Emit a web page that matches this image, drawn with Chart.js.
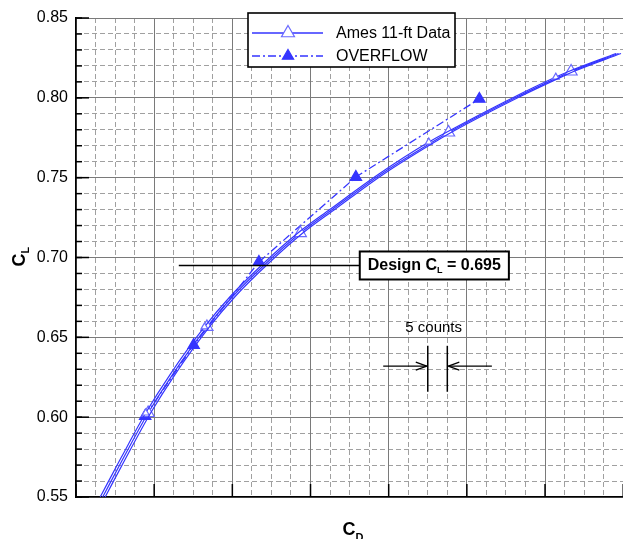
<!DOCTYPE html>
<html><head><meta charset="utf-8">
<script src="https://cdn.jsdelivr.net/npm/chart.js@4.4.1/dist/chart.umd.min.js"></script>
<style>
html,body{margin:0;padding:0;background:#fff;overflow:hidden;width:623px;height:539px}
#wrap{position:relative;width:631px;height:539px}
canvas{display:block}
</style></head>
<body><div id="wrap"><canvas id="c" width="631" height="539"></canvas></div>
<script>
// ---- data (C_D, C_L) ----
const amesCD_A = [0.030683,0.031226,0.031846,0.032478,0.033350,0.034020,0.034804,0.035739,0.036574,0.037813,0.039203,0.039532,0.041226,0.042414,0.042667,0.043881];
const amesCL_A = [0.5500,0.5750,0.6026,0.6270,0.6565,0.6759,0.6950,0.7153,0.7304,0.7523,0.7736,0.7783,0.7999,0.8137,0.8165,0.8278];
const amesCD_B = [0.030619,0.031163,0.031783,0.032415,0.033287,0.033957,0.034741,0.035676,0.036511,0.037750,0.039026,0.039469,0.041163,0.042275,0.042604,0.043818];
const amesCL_B = [0.5500,0.5750,0.6026,0.6270,0.6565,0.6759,0.6950,0.7153,0.7304,0.7523,0.7723,0.7783,0.7999,0.8130,0.8165,0.8278];
const amesCD_C = [0.030746,0.031289,0.031909,0.032541,0.033413,0.034083,0.034867,0.035802,0.036637,0.037876,0.039266,0.039595,0.041289,0.042477,0.042730,0.043944];
const amesCL_C = [0.5500,0.5750,0.6026,0.6270,0.6565,0.6759,0.6950,0.7153,0.7304,0.7523,0.7736,0.7783,0.7999,0.8137,0.8165,0.8278];
const amesMarkA = [0,0,7,0,7,0,0,7,0,0,0,7,0,0,7,0];
const amesMarkB = [0,0,4,0,4,0,0,0,0,0,4,0,0,4,0,0];
const overflowCD = [0.03177,0.03301,0.03468,0.03716,0.04032];
const overflowCL = [0.6007,0.6452,0.6972,0.7504,0.7993];
const seriesNames = ["Ames 11-ft Data","OVERFLOW"];
const yTickValues = [0.55,0.60,0.65,0.70,0.75,0.80,0.85];
const X_MIN = 0.030, X_MAX = 0.044, X_MAJOR = 0.002, X_MINOR = 0.0005;
const Y_MINOR = 0.01;
const DESIGN_CL = 0.695, DESIGN_LINE_START = 0.03263, DESIGN_BOX_LEFT = 0.03726;
const COUNT_X1 = 0.0390, COUNT_X2 = 0.0395, COUNT_ARROW_L = 0.03786, COUNT_ARROW_R = 0.04064;
const COUNT_Y = 0.632, COUNT_TOP = 0.6447, COUNT_BOT = 0.6159, COUNT_TEXT_X = 0.03915, COUNT_TEXT_Y = 0.6558;

const BLUE = '#3535ff', MARK = '#6a6aff';
const FONT = "'Liberation Sans', Arial, Helvetica, sans-serif";
const pts = (xs, ys) => xs.map((x,i)=>({x, y: ys[i]}));

function line(ctx,x1,y1,x2,y2){ctx.beginPath();ctx.moveTo(x1,y1);ctx.lineTo(x2,y2);ctx.stroke();}
function tri(ctx,x,y,r,fill,stroke){
  ctx.beginPath();
  ctx.moveTo(x, y - r);
  ctx.lineTo(x + r*Math.sin(Math.PI*2/3), y + r*0.5);
  ctx.lineTo(x - r*Math.sin(Math.PI*2/3), y + r*0.5);
  ctx.closePath();
  ctx.fillStyle = fill; ctx.fill();
  ctx.strokeStyle = stroke; ctx.lineWidth = 1.2; ctx.stroke();
}

const overlay = {
  id: 'overlay',
  afterDraw(chart){
    const ctx = chart.ctx, ca = chart.chartArea;
    const xs = chart.scales.x, ys = chart.scales.y;
    ctx.save();
    // inward tick marks
    ctx.strokeStyle = '#000'; ctx.lineWidth = 1.5;
    yTickValues.forEach(v=>{const p = ys.getPixelForValue(v); line(ctx, ca.left, p, ca.left+13, p);});
    chart.scales.yMinor.ticks.forEach(t=>{const p = ys.getPixelForValue(t.value); line(ctx, ca.left, p, ca.left+6, p);});
    xs.ticks.forEach(t=>{const p = xs.getPixelForValue(t.value); line(ctx, p, ca.bottom, p, ca.bottom-13);});

    // axis titles
    ctx.fillStyle = '#000';
    ctx.textBaseline = 'alphabetic'; ctx.textAlign = 'left';
    ctx.font = 'bold 18px ' + FONT;
    const cw = ctx.measureText('C').width;
    const xc = (ca.left + 623) / 2;
    ctx.fillText('C', xc - 7, 535);
    ctx.font = 'bold 11px ' + FONT;
    ctx.fillText('D', xc - 7 + cw, 541);
    ctx.save();
    ctx.translate(25, (ca.top + ca.bottom)/2);
    ctx.rotate(-Math.PI/2);
    ctx.font = 'bold 18px ' + FONT;
    ctx.fillText('C', -9, 0);
    ctx.font = 'bold 11px ' + FONT;
    ctx.fillText('L', -9 + cw, 4);
    ctx.restore();

    // design CL line and box
    const yd = ys.getPixelForValue(DESIGN_CL);
    const xl = xs.getPixelForValue(DESIGN_LINE_START);
    const xb = xs.getPixelForValue(DESIGN_BOX_LEFT);
    ctx.strokeStyle = '#000'; ctx.lineWidth = 1.5;
    line(ctx, xl, yd, xb, yd);
    ctx.font = 'bold 16px ' + FONT;
    const t1 = 'Design C', t3 = ' = 0.695';
    const w1 = ctx.measureText(t1).width, w3 = ctx.measureText(t3).width;
    ctx.font = 'bold 9px ' + FONT;
    const w2 = ctx.measureText('L').width;
    const bw = w1 + w2 + w3 + 16, bh = 28;
    ctx.fillStyle = '#fff';
    ctx.fillRect(xb, yd - bh/2, bw, bh);
    ctx.lineWidth = 2; ctx.strokeStyle = '#000';
    ctx.strokeRect(xb, yd - bh/2, bw, bh);
    ctx.fillStyle = '#000';
    ctx.font = 'bold 16px ' + FONT;
    ctx.fillText(t1, xb + 8, yd + 5);
    ctx.font = 'bold 9px ' + FONT;
    ctx.fillText('L', xb + 8 + w1, yd + 8);
    ctx.font = 'bold 16px ' + FONT;
    ctx.fillText(t3, xb + 8 + w1 + w2, yd + 5);

    // 5 counts annotation
    const c1 = xs.getPixelForValue(COUNT_X1), c2 = xs.getPixelForValue(COUNT_X2);
    const ya = ys.getPixelForValue(COUNT_Y);
    ctx.lineWidth = 1.5; ctx.strokeStyle = '#000';
    line(ctx, c1, ys.getPixelForValue(COUNT_TOP), c1, ys.getPixelForValue(COUNT_BOT));
    line(ctx, c2, ys.getPixelForValue(COUNT_TOP), c2, ys.getPixelForValue(COUNT_BOT));
    ctx.lineWidth = 1.2;
    const al = xs.getPixelForValue(COUNT_ARROW_L), ar = xs.getPixelForValue(COUNT_ARROW_R);
    line(ctx, al, ya, c1 - 1, ya);
    line(ctx, c1 - 1, ya, c1 - 12, ya - 4); line(ctx, c1 - 1, ya, c1 - 12, ya + 4);
    line(ctx, ar, ya, c2 + 1, ya);
    line(ctx, c2 + 1, ya, c2 + 12, ya - 4); line(ctx, c2 + 1, ya, c2 + 12, ya + 4);
    ctx.font = '15px ' + FONT; ctx.textAlign = 'center'; ctx.textBaseline = 'middle';
    ctx.fillText('5 counts', xs.getPixelForValue(COUNT_TEXT_X), ys.getPixelForValue(COUNT_TEXT_Y));

    // legend
    const lx = 248, ly = 13, lw = 207, lh = 54;
    ctx.fillStyle = '#fff'; ctx.fillRect(lx, ly, lw, lh);
    ctx.strokeStyle = '#000'; ctx.lineWidth = 1.6; ctx.strokeRect(lx, ly, lw, lh);
    ctx.strokeStyle = BLUE; ctx.lineWidth = 1.3;
    line(ctx, 252, 33, 323, 33);
    tri(ctx, 288, 33, 7.5, '#fff', MARK);
    ctx.setLineDash([8,3,2,3]);
    ctx.strokeStyle = BLUE; ctx.lineWidth = 1.3;
    line(ctx, 252, 56, 323, 56);
    ctx.setLineDash([]);
    tri(ctx, 288, 56, 6.5, BLUE, BLUE);
    ctx.fillStyle = '#000'; ctx.font = '16px ' + FONT; ctx.textAlign = 'left'; ctx.textBaseline = 'middle';
    ctx.fillText(seriesNames[0], 336, 34);
    ctx.fillText(seriesNames[1], 336, 57);
    ctx.restore();
  }
};

const amesStyle = {
  borderColor: BLUE, borderWidth: 1.2, showLine: true,
  cubicInterpolationMode: 'monotone', pointStyle: 'triangle',
  pointBackgroundColor: '#fff', pointBorderColor: MARK, pointBorderWidth: 1.2,
  pointHoverRadius: 0
};

new Chart(document.getElementById('c'), {
  type: 'scatter',
  data: { datasets: [
    Object.assign({label: seriesNames[0]+' C', data: pts(amesCD_C, amesCL_C), pointRadius: 0}, amesStyle),
    Object.assign({label: seriesNames[0]+' B', data: pts(amesCD_B, amesCL_B), pointRadius: amesMarkB}, amesStyle),
    Object.assign({label: seriesNames[0], data: pts(amesCD_A, amesCL_A), pointRadius: amesMarkA}, amesStyle),
    { label: seriesNames[1], data: pts(overflowCD, overflowCL), showLine: true, tension: 0,
      borderColor: BLUE, borderWidth: 1.3, borderDash: [8,3,2,3],
      pointStyle: 'triangle', pointRadius: 6.5, pointBackgroundColor: BLUE, pointBorderColor: BLUE }
  ]},
  options: {
    responsive: false, animation: false, devicePixelRatio: 1,
    layout: { padding: { top: 18, right: 1, left: 0, bottom: 0 } },
    plugins: { legend: { display: false }, tooltip: { enabled: false } },
    events: [],
    scales: {
      xMinor: { type: 'linear', position: 'bottom', min: X_MIN, max: X_MAX, z: -2,
        ticks: { display: false, stepSize: X_MINOR },
        grid: { color: '#a0a0a0', lineWidth: 1, drawTicks: false },
        border: { display: false, dash: [5,3] },
        afterFit(s){ s.height = 0; } },
      yMinor: { type: 'linear', position: 'left', min: 0.55, max: 0.85, z: -2,
        ticks: { display: false, stepSize: Y_MINOR },
        grid: { color: '#a0a0a0', lineWidth: 1, drawTicks: false },
        border: { display: false, dash: [5,3] },
        afterFit(s){ s.width = 0; } },
      x: { type: 'linear', position: 'bottom', min: X_MIN, max: X_MAX, z: -1,
        ticks: { display: false, stepSize: X_MAJOR },
        grid: { color: '#7a7a7a', lineWidth: 1, drawTicks: false },
        border: { display: true, color: '#000', width: 1.6 },
        afterFit(s){ s.height = 42; } },
      y: { type: 'linear', position: 'left', min: 0.55, max: 0.85, z: -1,
        afterBuildTicks(s){ s.ticks = yTickValues.map(v=>({value: v})); },
        ticks: { padding: 8, color: '#000', font: { family: FONT, size: 16 },
          callback: v => Number(v).toFixed(2) },
        grid: { color: '#7a7a7a', lineWidth: 1, drawTicks: false },
        border: { display: true, color: '#000', width: 1.6 },
        afterFit(s){ s.width = 76; } }
    }
  },
  plugins: [overlay]
});
</script>
</body></html>
